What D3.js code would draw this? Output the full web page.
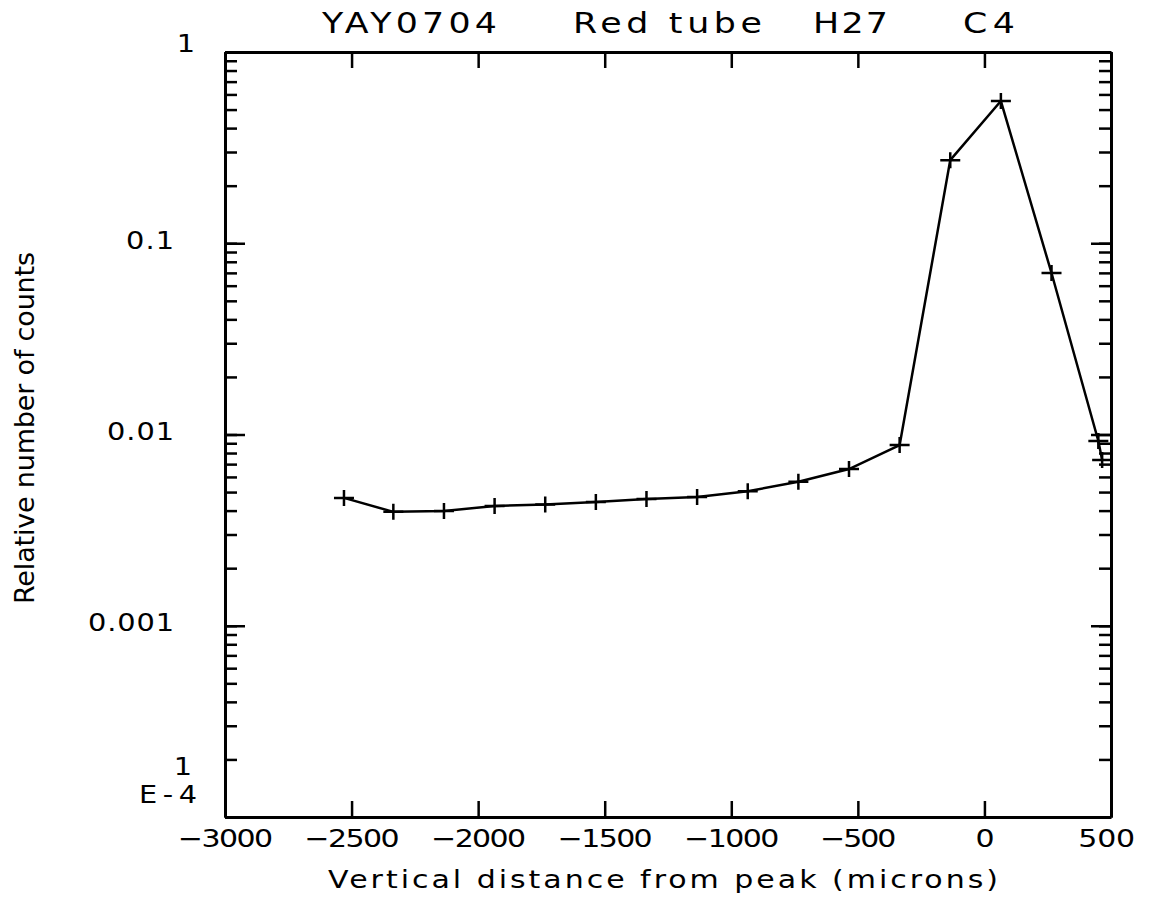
<!DOCTYPE html>
<html>
<head>
<meta charset="utf-8">
<script src="https://cdn.jsdelivr.net/npm/d3@7"></script>
<style>
  body { margin: 0; background: #fff; }
  text { font-family: "DejaVu Sans", "Liberation Sans", sans-serif; fill: #000; }
  .axis path, .axis line { stroke: #000; }
</style>
</head>
<body>
<svg id="chart" width="1150" height="905"></svg>
<script>
// data
const distance = [-2530, -2335, -2135, -1935, -1735, -1535, -1335, -1135, -935, -735, -535, -335, -135, 65, 265, 450, 465];
const counts = [0.00466, 0.00394, 0.00398, 0.00423, 0.0043, 0.00444, 0.0046, 0.00471, 0.00505, 0.00566, 0.0066, 0.0088, 0.272, 0.554, 0.0699, 0.00925, 0.00736];

const xTickValues = [-3000, -2500, -2000, -1500, -1000, -500, 0, 500];
const yDecades = [1e-4, 1e-3, 1e-2, 1e-1, 1];
const yLabelValues = [0.1, 0.01, 0.001];
const titleParts = ["YAY0704", "Red tube", "H27", "C4"];
const xTitle = "Vertical distance from peak (microns)";
const yTitle = "Relative number of counts";

const width = 1150, height = 905;
const margin = { top: 52, right: 39, bottom: 88, left: 225 };
const SX = 1.2; // plotter letters are wider than the screen font

const svg = d3.select("#chart");

const x = d3.scaleLinear().domain([-3000, 500]).range([margin.left, width - margin.right]);
const y = d3.scaleLog().domain([1e-4, 1]).range([height - margin.bottom, margin.top]);

function labelLength(s) {
  let w = 0;
  for (const c of s) w += (c === ".") ? 10 : 19;
  return w / SX;
}
const fmtX = d => d < 0 ? "\u2212" + Math.abs(d) : String(d);

// text placed at (px,py), stretched horizontally along its own direction
function addText(parent, s, px, py, size, len, anchor, rot, sx) {
  const k = sx || SX;
  const t = parent.append("text")
    .attr("transform", `translate(${px},${py})` + (rot ? ` rotate(${rot})` : "") + ` scale(${k},1)`)
    .attr("font-size", size)
    .attr("text-anchor", anchor || "start")
    .text(s);
  if (len) t.attr("textLength", len / k).attr("lengthAdjust", "spacing");
  return t;
}

// bottom axis with labels
const gBottom = svg.append("g").attr("class", "axis")
  .attr("transform", `translate(0,${height - margin.bottom})`)
  .call(d3.axisBottom(x).tickValues(xTickValues).tickSizeInner(-16).tickSizeOuter(0).tickPadding(12).tickFormat(fmtX));
gBottom.selectAll("text")
  .attr("font-size", 25)
  .attr("transform", `scale(${SX},1)`)
  .each(function() {
    const s = d3.select(this).text();
    if (s.length > 1) d3.select(this).attr("textLength", labelLength(s)).attr("lengthAdjust", "spacing");
  });
gBottom.selectAll(".tick").filter(d => d === 500).select("text").attr("dx", -4);

// top axis
svg.append("g").attr("class", "axis")
  .attr("transform", `translate(0,${margin.top})`)
  .call(d3.axisTop(x).tickValues(xTickValues).tickSizeInner(-16).tickSizeOuter(0).tickFormat(""));

// left axis: minor then major
svg.append("g").attr("class", "axis")
  .attr("transform", `translate(${margin.left},0)`)
  .call(d3.axisLeft(y).tickValues(y.ticks()).tickSizeInner(-12).tickSizeOuter(0).tickFormat(""));
const gLeft = svg.append("g").attr("class", "axis")
  .attr("transform", `translate(${margin.left},0)`)
  .call(d3.axisLeft(y).tickValues(yDecades).tickSizeInner(-20).tickSizeOuter(0)
    .tickFormat(d => yLabelValues.includes(d) ? String(d) : ""));
gLeft.selectAll("text")
  .attr("font-size", 24)
  .attr("x", -51 / SX)
  .attr("dy", "0.2em")
  .attr("transform", `scale(${SX},1)`)
  .each(function() {
    const s = d3.select(this).text();
    if (s) d3.select(this).attr("textLength", labelLength(s)).attr("lengthAdjust", "spacing");
  });

// right axis
svg.append("g").attr("class", "axis")
  .attr("transform", `translate(${width - margin.right},0)`)
  .call(d3.axisRight(y).tickValues(y.ticks()).tickSizeInner(-12).tickSizeOuter(0).tickFormat(""));
svg.append("g").attr("class", "axis")
  .attr("transform", `translate(${width - margin.right},0)`)
  .call(d3.axisRight(y).tickValues(yDecades).tickSizeInner(-20).tickSizeOuter(0).tickFormat(""));

svg.selectAll(".axis .domain").attr("stroke-width", 3);
svg.selectAll(".axis .tick line").attr("stroke-width", 2.5);

// corner labels of the log axis
addText(svg, "1", margin.left - 30, y(1), 24, 0, "end");
addText(svg, "1", margin.left - 33, y(1e-4) - 42, 24, 0, "end");
addText(svg, "E-4", margin.left - 28, y(1e-4) - 14, 24, 58, "end");

// data line and + markers
const pts = distance.map((d, i) => [d, counts[i]]);
svg.append("path")
  .datum(pts)
  .attr("fill", "none")
  .attr("stroke", "#000")
  .attr("stroke-width", 2.5)
  .attr("d", d3.line().x(d => x(d[0])).y(d => y(d[1])));

svg.append("g")
  .selectAll("path")
  .data(pts)
  .join("path")
  .attr("fill", "none")
  .attr("stroke", "#000")
  .attr("stroke-width", 2.5)
  .attr("d", d => {
    const px = x(d[0]), py = y(d[1]);
    return `M${px - 10},${py}H${px + 10}M${px},${py - 8}V${py + 8}`;
  });

// title
const titleX = [322, 573, 813, 963];
const titleW = [175, 189, 75, 52];
titleParts.forEach((s, i) => addText(svg, s, titleX[i], 33, 29, titleW[i], "start"));

// axis titles
addText(svg, xTitle, 663, 888, 25, 670, "middle");
addText(svg, yTitle, 34, 428, 27, 352, "middle", -90, 1);
</script>
</body>
</html>
